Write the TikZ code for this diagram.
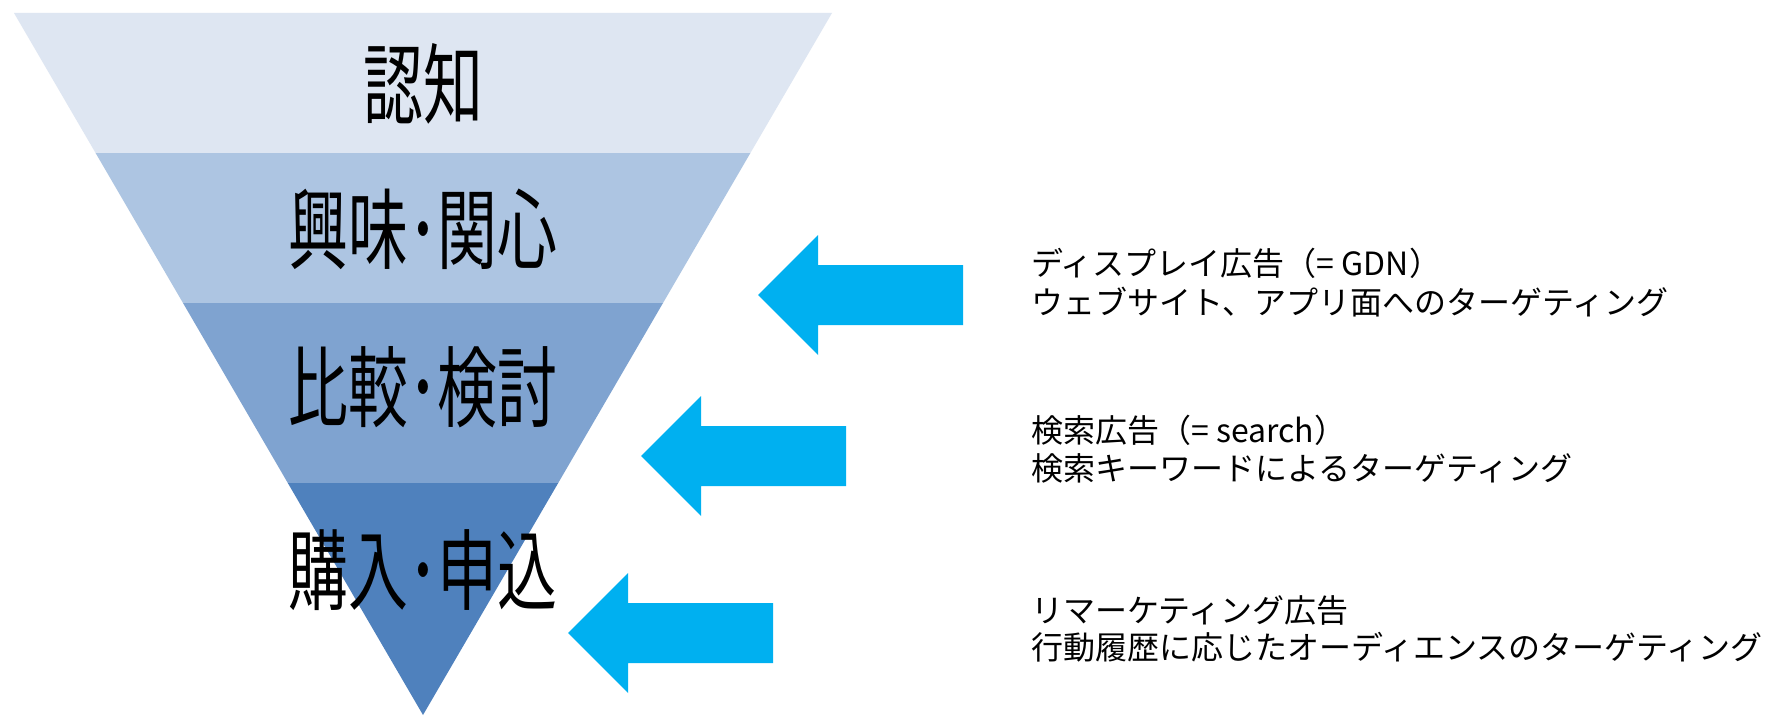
\documentclass[tikz,border=0pt]{standalone}
\usepackage{fontspec}
\usepackage{graphicx}
\newfontfamily\jpfont{Noto Sans CJK JP}
\definecolor{bandA}{HTML}{DEE6F2}
\definecolor{bandB}{HTML}{ADC5E2}
\definecolor{bandC}{HTML}{7FA3D0}
\definecolor{bandD}{HTML}{4F81BD}
\definecolor{arrowcyan}{HTML}{00B0F0}
\tikzset{
  stagelabel/.style={inner sep=0pt, font=\jpfont\fontsize{88}{88}\selectfont},
  adtext/.style={inner sep=0pt, anchor=west, font=\jpfont\fontsize{32}{40}\selectfont},
  blockarrow/.style={fill=arrowcyan}
}
\newcommand{\narrowjp}[1]{\scalebox{0.68}[1]{#1}}
\begin{document}
\begin{tikzpicture}[x=1pt,y=-1pt]
\useasboundingbox (0,0) rectangle (1766,717);
\fill[white] (0,0) rectangle (1766,717);
% funnel bands
\fill[bandA] (14,13) -- (832,13) -- (750.4,153) -- (95.6,153) -- cycle;
\fill[bandB] (95.6,153) -- (750.4,153) -- (663,303) -- (183,303) -- cycle;
\fill[bandC] (183,303) -- (663,303) -- (558.2,483) -- (287.8,483) -- cycle;
\fill[bandD] (287.8,483) -- (558.2,483) -- (423,715) -- cycle;
% stage labels
\node[stagelabel] (s1) at (423,84) {\narrowjp{認知}};
\node[stagelabel] (s2) at (423,229) {\narrowjp{興味･関心}};
\node[stagelabel] (s3) at (423,387) {\narrowjp{比較･検討}};
\node[stagelabel] (s4) at (423,570) {\narrowjp{購入･申込}};
% block arrows
\foreach \tx/\ty in {758/295, 641/456, 568/633}{
  \fill[blockarrow] (\tx,\ty) -- ++(60,-60) -- ++(0,30) -- ++(145,0) -- ++(0,60) -- ++(-145,0) -- ++(0,30) -- cycle;
}
% ad texts
\node[adtext] (d1a) at (1031,263) {ディスプレイ広告（= GDN）};
\node[adtext] (d1b) at (1031,302) {ウェブサイト、アプリ面へのターゲティング};
\node[adtext] (d2a) at (1031,430) {検索広告（= search）};
\node[adtext] (d2b) at (1031,468) {検索キーワードによるターゲティング};
\node[adtext] (d3a) at (1031,610) {リマーケティング広告};
\node[adtext] (d3b) at (1031,647) {行動履歴に応じたオーディエンスのターゲティング};
\end{tikzpicture}
\end{document}
